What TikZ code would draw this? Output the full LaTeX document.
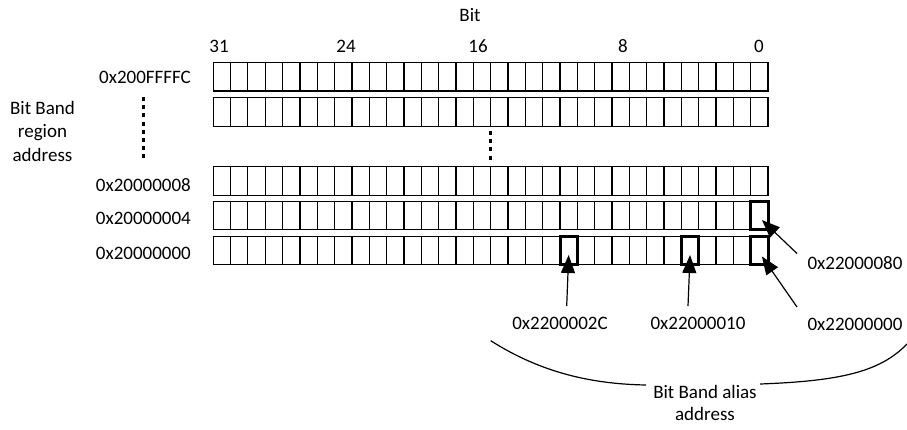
\documentclass[tikz,border=0pt]{standalone}
\usepackage{fontspec}
\setmainfont{Carlito}
\usetikzlibrary{arrows.meta}
\begin{document}
\begin{tikzpicture}[x=1pt,y=-1pt,
  cell/.style={draw, line width=1.2pt, minimum width=17.34pt, minimum height=28.7pt, inner sep=0pt, outer sep=0pt},
  hot/.style={draw, line width=3pt, minimum width=17.34pt, minimum height=28.7pt, inner sep=0pt, outer sep=0pt},
  lbl/.style={font=\fontsize{19}{23.5}\selectfont, inner sep=0pt},
  arr/.style={line width=1.2pt, -{Triangle[length=18pt,width=14pt]}},
  dotline/.style={line width=2.8pt, dash pattern=on 4pt off 4.2pt},
  brace/.style={line width=1.2pt},
]
\useasboundingbox (0,0) rectangle (907,429);
% register rows
\foreach \r/\yc in {1/76.7, 2/112.2, 3/180.8, 4/215.5, 5/250.5} {
  \foreach \i in {0,...,31} {
    \pgfmathtruncatemacro\b{31-\i}
    \node[cell] (r\r-\b) at ({213.2+\i*17.34+8.67}, \yc) {};
  }
}
% highlighted bits
\node[hot] (h1) at (r4-0.center) {};
\node[hot] (h2) at (r5-0.center) {};
\node[hot] (h3) at (r5-4.center) {};
\node[hot] (h4) at (r5-11.center) {};
% titles
\node[lbl, anchor=base] (bit) at (470, 21) {Bit};
\node[lbl, anchor=base] (n31) at (219, 52) {31};
\node[lbl, anchor=base] (n24) at (346, 52) {24};
\node[lbl, anchor=base] (n16) at (478, 52) {16};
\node[lbl, anchor=base] (n8) at (623, 52) {8};
\node[lbl, anchor=base] (n0) at (759, 52) {0};
% left labels
\node[lbl, anchor=base east] (a1) at (191, 83) {0x200FFFFC};
\node[lbl, anchor=base east] (a3) at (191, 191) {0x20000008};
\node[lbl, anchor=base east] (a4) at (191, 224.5) {0x20000004};
\node[lbl, anchor=base east] (a5) at (191, 259.5) {0x20000000};
\node[lbl, align=center] (region) at (42.5, 131) {Bit Band\\region\\address};
% dotted continuation marks
\coordinate (dl1) at (143.5, 97);
\coordinate (dl2) at (143.5, 162);
\draw[dotline] (dl1) -- (dl2);
\coordinate (dm1) at (490.7, 131);
\coordinate (dm2) at (490.7, 162);
\draw[dotline] (dm1) -- (dm2);
% alias labels
\node[lbl, anchor=base] (l1) at (560, 329.5) {0x2200002C};
\node[lbl, anchor=base] (l2) at (698, 329.5) {0x22000010};
\node[lbl, anchor=base] (l3) at (855, 330.5) {0x22000000};
\node[lbl, anchor=base] (l4) at (855, 269) {0x22000080};
\coordinate (s1) at (566.7, 306);
\coordinate (s2) at (688, 306);
\coordinate (s3) at (797, 307);
\coordinate (s4) at (797, 253.5);
\draw[arr] (s1) -- ([yshift=-4.5pt]h4.center);
\draw[arr] (s2) -- ([yshift=-4.5pt]h3.center);
\draw[arr] (s3) -- ([shift={(2.5pt,-6pt)}]h2.center);
\draw[arr] (s4) -- ([shift={(2.5pt,-4.5pt)}]h1.center);
% bottom brace
\node[lbl, align=center, font=\fontsize{19}{21.5}\selectfont] (alias) at (705, 403) {Bit Band alias\\address};
\coordinate (bl) at (490.7, 340.7);
\coordinate (blm) at (646, 385);
\coordinate (brm) at (760, 384);
\coordinate (br) at (907, 344);
\draw[brace] (bl) .. controls (540,372) and (590,384) .. (blm);
\draw[brace] (brm) .. controls (840,381) and (880,372) .. (br);
\end{tikzpicture}
\end{document}
